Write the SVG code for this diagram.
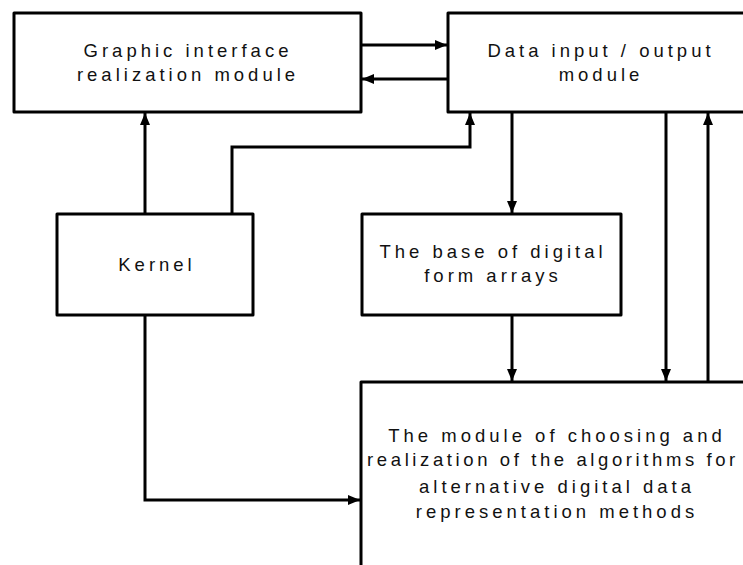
<svg xmlns="http://www.w3.org/2000/svg" width="743" height="565" viewBox="0 0 743 565">
<style>
.box{fill:#fff;stroke:#000;stroke-width:3;stroke-linejoin:round}
.lbl{font-family:"Liberation Sans",Arial,sans-serif;font-size:18.5px;letter-spacing:4px;fill:#111;text-anchor:middle}
.ln{fill:none;stroke:#000;stroke-width:3}
</style>
<defs>
<marker id="ah" markerUnits="userSpaceOnUse" markerWidth="14" markerHeight="12" refX="12" refY="6" orient="auto">
<path d="M0,1 L12,6 L0,11 Z" fill="#000"/>
</marker>
</defs>
<rect width="743" height="565" fill="#fff"/>
<g id="connectors">
<path class="ln" d="M361,45 H447" marker-end="url(#ah)"/>
<path class="ln" d="M448,79 H362" marker-end="url(#ah)"/>
<path class="ln" d="M145,214 V113" marker-end="url(#ah)"/>
<path class="ln" d="M232,214 V147 H470 V113" marker-end="url(#ah)"/>
<path class="ln" d="M512,112 V213" marker-end="url(#ah)"/>
<path class="ln" d="M666,112 V381" marker-end="url(#ah)"/>
<path class="ln" d="M708,382 V113" marker-end="url(#ah)"/>
<path class="ln" d="M512,315 V381" marker-end="url(#ah)"/>
<path class="ln" d="M145,315 V500 H360" marker-end="url(#ah)"/>
</g>
<g id="graphic">
<rect class="box" x="14" y="13" width="347" height="99"/>
<text class="lbl" x="188" y="57">Graphic interface</text>
<text class="lbl" x="188" y="81">realization module</text>
</g>
<g id="dataio">
<rect class="box" x="448" y="13" width="310" height="99"/>
<text class="lbl" x="601" y="57">Data input / output</text>
<text class="lbl" x="601" y="81">module</text>
</g>
<g id="kernel">
<rect class="box" x="57" y="214" width="196" height="101"/>
<text class="lbl" x="157" y="271">Kernel</text>
</g>
<g id="base">
<rect class="box" x="362" y="214" width="259" height="101"/>
<text class="lbl" x="493" y="258">The base of digital</text>
<text class="lbl" x="493" y="282">form arrays</text>
</g>
<g id="module">
<rect class="box" x="361" y="382" width="400" height="250"/>
<text class="lbl" x="557" y="442">The module of choosing and</text>
<text class="lbl" x="553" y="466" style="letter-spacing:3.6px">realization of the algorithms for</text>
<text class="lbl" x="557" y="493">alternative digital data</text>
<text class="lbl" x="557" y="518">representation methods</text>
</g>
</svg>
